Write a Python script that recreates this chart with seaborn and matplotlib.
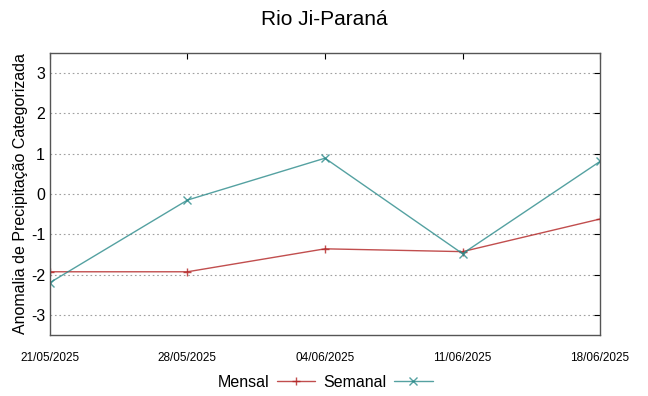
import pandas as pd
import matplotlib.pyplot as plt
import matplotlib.dates as mdates
import seaborn as sns

sns.set_style("white")
plt.rcParams["font.family"] = ["Liberation Sans", "DejaVu Sans"]
plt.rcParams["axes.unicode_minus"] = False
plt.rcParams["text.color"] = "black"
plt.rcParams["axes.labelcolor"] = "black"
plt.rcParams["xtick.color"] = "black"
plt.rcParams["ytick.color"] = "black"

# data
datas = ["2025-05-21", "2025-05-28", "2025-06-04", "2025-06-11", "2025-06-18"]
mensal = [-1.93, -1.93, -1.36, -1.43, -0.62]
semanal = [-2.20, -0.15, 0.89, -1.48, 0.81]

df = pd.DataFrame({
    "data": pd.to_datetime(datas).tolist() * 2,
    "valor": mensal + semanal,
    "serie": ["Mensal"] * len(datas) + ["Semanal"] * len(datas),
})

fig = plt.figure(figsize=(6.48, 3.96), dpi=100)
ax = fig.add_axes([0.077, 0.154, 0.849, 0.712])

sns.lineplot(data=df, x="data", y="valor", hue="serie", style="serie",
             palette={"Mensal": "#b22222", "Semanal": "#2a8a8a"},
             markers={"Mensal": "+", "Semanal": "x"}, dashes=False,
             linewidth=1.0, markersize=6, markeredgewidth=1.0, alpha=0.8, ax=ax)
for ln in ax.get_lines():
    ln.set_markeredgecolor(ln.get_color())

ax.set_xlim(pd.Timestamp(datas[0]), pd.Timestamp(datas[-1]))
ax.set_ylim(-3.5, 3.5)
ax.set_xticks(pd.to_datetime(datas))
ax.xaxis.set_major_formatter(mdates.DateFormatter("%d/%m/%Y"))
ax.set_yticks(range(-3, 4))
ax.tick_params(axis="x", labelsize=8.5, direction="in", top=True, pad=12, length=4)
ax.tick_params(axis="y", labelsize=11.5, direction="in", right=True, length=4)
ax.yaxis.grid(True, linestyle=(0, (1.5, 2.5)), color="#a0a0a0", linewidth=0.8)
for s in ax.spines.values():
    s.set_color("#555555")
    s.set_linewidth(1.0)

ax.set_xlabel("")
ax.set_ylabel("Anomalia de Precipitação Categorizada", fontsize=11.5, labelpad=2)
fig.suptitle("Rio Ji-Paraná", fontsize=15, y=0.975)

handles, labels = ax.get_legend_handles_labels()
for h in handles:
    h.set_markeredgecolor(h.get_color())
ax.legend(handles, labels, loc="center", bbox_to_anchor=(0.5, -0.167),
          ncol=2, frameon=False, markerfirst=False, fontsize=11.5,
          handlelength=2.4, columnspacing=0.5, handletextpad=0.5)

fig.savefig("out.png", dpi=100)
